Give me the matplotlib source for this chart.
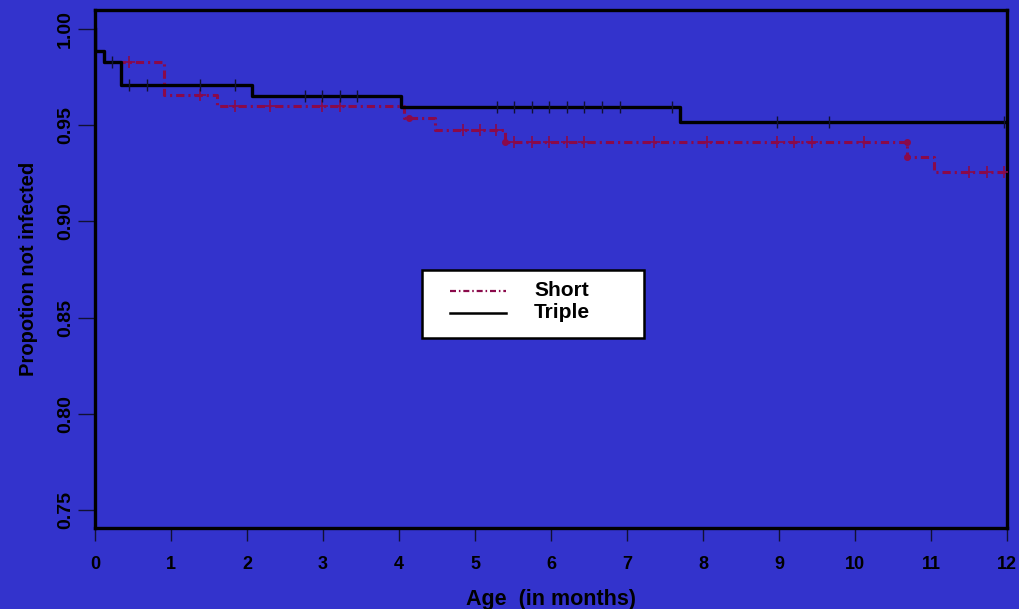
import numpy as np
import matplotlib.pyplot as plt
from matplotlib.patches import Rectangle
from matplotlib.lines import Line2D

plt.rcParams['font.family'] = ['Liberation Sans', 'DejaVu Sans']
plt.rcParams['font.weight'] = 'bold'

# Kaplan-Meier steps (time in months, survival)
short_t = [0, 0, 0.12, 0.91, 1.61, 4.07, 4.48, 5.39, 10.69, 11.04]
short_s = [1.0, 0.9887, 0.983, 0.9656, 0.9599, 0.9538, 0.9474, 0.9415, 0.9337, 0.9257]
short_cens = [0.45, 1.38, 1.84, 2.30, 2.99, 3.22, 4.84, 5.07, 5.28, 5.52, 5.75, 5.98,
              6.21, 6.44, 7.36, 8.05, 8.97, 9.20, 9.43, 10.12, 11.50, 11.74, 11.96]
short_dot_t = [4.13, 5.39, 10.69, 10.69]
short_dot_s = [0.9538, 0.9415, 0.9415, 0.9337]

triple_t = [0, 0, 0.12, 0.34, 2.07, 4.03, 7.70]
triple_s = [1.0, 0.9887, 0.983, 0.971, 0.9653, 0.9594, 0.9516]
triple_cens = [0.23, 0.45, 0.69, 1.38, 1.84, 2.76, 2.99, 3.22, 3.45, 5.29, 5.52, 5.75,
               5.98, 6.21, 6.44, 6.67, 6.91, 7.59, 8.97, 9.66, 11.96]

x_ticks = list(range(0, 13))
y_ticks = [0.75, 0.80, 0.85, 0.90, 0.95, 1.00]
t_end = 12

bg = '#3333cc'
red = '#8a0a4a'
dashdot = (0, (2.7, 1.3, 0.7, 1.3))


def level(times, surv, t):
    i = np.searchsorted(times, t, side='right') - 1
    return surv[i]


fig = plt.figure(figsize=(10.19, 6.09), dpi=100, facecolor=bg)
ax = fig.add_axes([0.0932, 0.133, 0.8950, 0.8506], facecolor=bg)

# Short
ax.step(short_t + [t_end], short_s + [short_s[-1]], where='post', color=red,
        lw=2.2, linestyle=dashdot, zorder=2)
ax.plot(short_cens, [level(short_t, short_s, t) for t in short_cens], '+',
        color=red, ms=9, mew=1.2, zorder=3)
ax.plot(short_dot_t, short_dot_s, 'o', color=red, ms=4, zorder=3)

# Triple
ax.step(triple_t + [t_end], triple_s + [triple_s[-1]], where='post', color='black',
        lw=2.4, zorder=4)
ax.plot(triple_cens, [level(triple_t, triple_s, t) for t in triple_cens], '|',
        color='#111133', ms=9, mew=1.0, zorder=5)

ax.set_xlim(0, 12)
ax.set_ylim(0.7406, 1.0099)
ax.set_xticks(x_ticks)
ax.set_xticklabels([str(v) for v in x_ticks])
ax.set_yticks(y_ticks)
ax.set_yticklabels(['%.2f' % v for v in y_ticks], rotation=90, va='center')
ax.tick_params(axis='x', length=9, width=1, color='#111133', pad=11, labelsize=13)
ax.tick_params(axis='y', length=12, width=1, color='#111133', pad=3, labelsize=14)
for sp in ax.spines.values():
    sp.set_linewidth(2.4)
    sp.set_color('black')

ax.set_xlabel('Age  (in months)', fontsize=15.5, fontweight='bold', labelpad=12)
ax.set_ylabel('Propotion not infected', fontsize=14.5, fontweight='bold', labelpad=14)

# legend box
fig.patches.append(Rectangle((421.7 / 1019, 1 - 338 / 609), 222 / 1019, 68 / 609,
                             transform=fig.transFigure, facecolor='white',
                             edgecolor='black', lw=1.8, zorder=10))
fig.lines.append(Line2D([450 / 1019, 506 / 1019], [1 - 291 / 609] * 2,
                        transform=fig.transFigure, color=red, lw=1.6,
                        linestyle=dashdot, zorder=11))
fig.lines.append(Line2D([450 / 1019, 506 / 1019], [1 - 312.7 / 609] * 2,
                        transform=fig.transFigure, color='black', lw=1.8, zorder=11))
fig.text(534 / 1019, 1 - 290 / 609, 'Short', fontsize=15, fontweight='bold',
         va='center', zorder=12)
fig.text(534 / 1019, 1 - 312 / 609, 'Triple', fontsize=15, fontweight='bold',
         va='center', zorder=12)

fig.savefig('out.png', dpi=100, facecolor=bg)
